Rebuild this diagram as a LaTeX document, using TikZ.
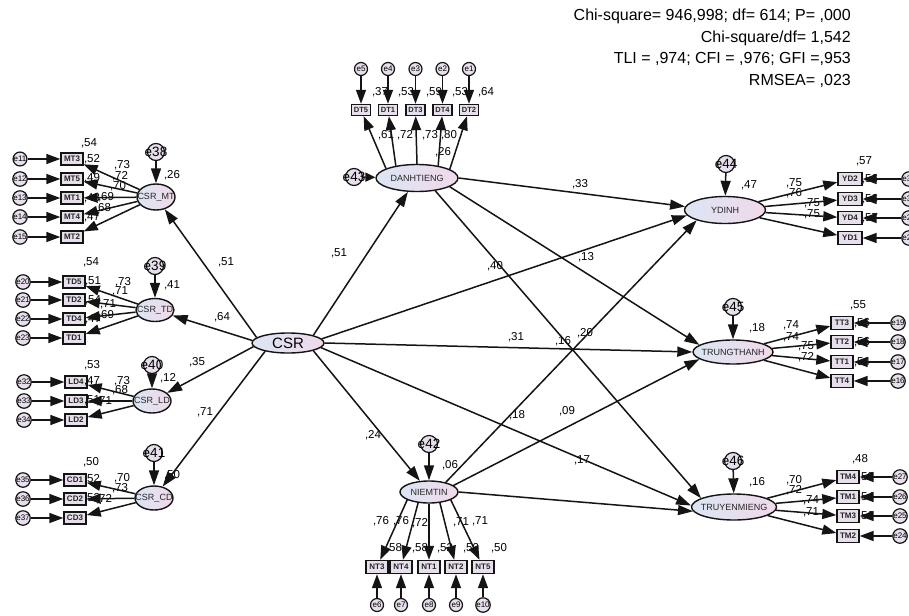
\documentclass[tikz,border=0pt]{standalone}
\usepackage{fontspec}
\setmainfont{Liberation Sans}
\usetikzlibrary{shapes.geometric,arrows.meta}
\definecolor{boxfill}{HTML}{E8DFEC}
\definecolor{latL}{HTML}{DCE5F3}
\definecolor{latR}{HTML}{F0D9EA}
\definecolor{edgec}{HTML}{141414}
\tikzset{
 lat/.style={ellipse, draw=edgec, line width=1.4pt, left color=latL, right color=latR, inner sep=0pt},
 latname/.style={font=\fontsize{9}{9}\selectfont, text=black!85},
 obs/.style={rectangle, draw=edgec, line width=1.4pt, fill=boxfill, inner sep=0pt, minimum width=22pt, minimum height=12pt, font=\bfseries\fontsize{8}{8}\selectfont, text=black!85},
 obsdt/.style={obs, minimum width=19pt, minimum height=11pt, font=\bfseries\fontsize{7.5}{7.5}\selectfont},
 err/.style={circle, draw=edgec, line width=1.2pt, fill=boxfill, inner sep=0pt, minimum size=13pt, font=\fontsize{8}{8}\selectfont},
 dist/.style={circle, draw=edgec, line width=1.2pt, fill=boxfill, inner sep=0pt, minimum size=17pt},
 distname/.style={font=\fontsize{13.5}{13.5}\selectfont},
 num/.style={inner sep=0pt, font=\fontsize{11.5}{11.5}\selectfont},
 fitstat/.style={inner sep=0pt, anchor=base east, font=\fontsize{16}{16}\selectfont},
 arr/.style={draw=edgec, line width=1.5pt, -{Triangle[length=14pt,width=10pt]}},
 sarr/.style={draw=edgec, line width=1.5pt, -{Triangle[length=15pt,width=10pt]}},
 shortarr/.style={draw=edgec, line width=1.5pt, -{Triangle[length=10pt,width=9pt]}},
}
\begin{document}
\begin{tikzpicture}[x=1pt,y=-1pt]
\useasboundingbox (0,0) rectangle (909,615);
\clip (0,0) rectangle (909,615);
\fill[white] (0,0) rectangle (909,615);

% fit statistics
\node[fitstat] (fs1) at (851,21) {Chi-square= 946,998; df= 614; P= ,000};
\node[fitstat] (fs2) at (851,42.5) {Chi-square/df= 1,542};
\node[fitstat] (fs3) at (851,64) {TLI = ,974; CFI = ,976; GFI =,953};
\node[fitstat] (fs4) at (851,85.5) {RMSEA= ,023};

% latent variables
\node[lat, minimum width=72pt, minimum height=20pt, label={[font=\fontsize{15}{15}\selectfont]center:CSR}] (csr) at (288,343) {};
\node[lat, minimum width=38pt, minimum height=26pt, label={[latname]center:CSR\_MT}] (csrmt) at (156,197) {};
\node[lat, minimum width=38pt, minimum height=23pt, label={[latname]center:CSR\_TD}] (csrtd) at (155,310) {};
\node[lat, minimum width=38pt, minimum height=24pt, label={[latname]center:CSR\_LD}] (csrld) at (152,401) {};
\node[lat, minimum width=38pt, minimum height=24pt, label={[latname]center:CSR\_CD}] (csrcd) at (154,498) {};
\node[lat, minimum width=82pt, minimum height=27pt, label={[latname]center:DANHTIENG}] (dan) at (417,178) {};
\node[lat, minimum width=58pt, minimum height=22pt, label={[latname]center:NIEMTIN}] (niem) at (429,492) {};
\node[lat, minimum width=81pt, minimum height=27pt, label={[latname]center:YDINH}] (ydinh) at (725,210) {};
\node[lat, minimum width=80pt, minimum height=24pt, label={[latname]center:TRUNGTHANH}] (ttn) at (733,352) {};
\node[lat, minimum width=85pt, minimum height=26pt, label={[latname]center:TRUYENMIENG}] (tmg) at (734,507) {};

% disturbances
\node[dist, label={[distname]center:e38}] (e38) at (156,152) {};
\node[dist, label={[distname]center:e39}] (e39) at (155,266) {};
\node[dist, label={[distname]center:e40}] (e40) at (152,365) {};
\node[dist, label={[distname]center:e41}] (e41) at (154,453) {};
\node[dist, label={[distname]center:e43}] (e43) at (354,177) {};
\node[dist, label={[distname]center:e42}] (e42) at (429,444) {};
\node[dist, label={[distname]center:e44}] (e44) at (726,164) {};
\node[dist, label={[distname]center:e45}] (e45) at (733,307) {};
\node[dist, label={[distname]center:e46}] (e46) at (733,461) {};

% indicators and their errors
\foreach \n/\y/\e in {MT3/159/e11, MT5/179/e12, MT1/198/e13, MT4/217/e14, MT2/237/e15}{
  \node[obs] (\n) at (72,\y) {\n};
  \node[err] (\e) at (20,\y) {\e};
}
\foreach \n/\y/\e in {TD5/282/e20, TD2/300/e21, TD4/319/e22, TD1/338/e23}{
  \node[obs] (\n) at (74,\y) {\n};
  \node[err] (\e) at (23,\y) {\e};
}
\foreach \n/\y/\e in {LD4/382/e32, LD3/401/e33, LD2/420/e34}{
  \node[obs] (\n) at (76,\y) {\n};
  \node[err] (\e) at (24,\y) {\e};
}
\foreach \n/\y/\e in {CD1/480/e35, CD2/499/e36, CD3/518/e37}{
  \node[obs] (\n) at (75,\y) {\n};
  \node[err] (\e) at (23,\y) {\e};
}
\foreach \n/\x/\e in {DT5/361/e5, DT1/388/e4, DT3/415.5/e3, DT4/442.5/e2, DT2/469/e1}{
  \node[obsdt] (\n) at (\x,110) {\n};
  \node[err] (\e) at (\x,69) {\e};
}
\foreach \n/\x/\e in {NT3/377/e6, NT4/401/e7, NT1/429/e8, NT2/456/e9, NT5/483/e10}{
  \node[obs, minimum height=13pt] (\n) at (\x,567) {\n};
  \node[err] (\e) at (\x,605) {\e};
}
\foreach \n/\y/\e in {YD2/179/e31, YD3/199/e30, YD4/218/e29, YD1/238/e28}{
  \node[obs, minimum width=24pt, minimum height=13pt] (\n) at (850,\y) {\n};
  \node[err, minimum size=14pt] (\e) at (909,\y) {\e};
}
\foreach \n/\y/\e in {TT3/323/e19, TT2/342/e18, TT1/362/e17, TT4/381/e16}{
  \node[obs, minimum height=13pt] (\n) at (842,\y) {\n};
  \node[err, minimum size=14pt] (\e) at (898,\y) {\e};
}
\foreach \n/\y/\e in {TM4/477/e27, TM1/497/e26, TM3/516/e25, TM2/536/e24}{
  \node[obs, minimum height=13pt] (\n) at (848,\y) {\n};
  \node[err, minimum size=14pt] (\e) at (900,\y) {\e};
}

% estimates
\foreach \x/\y/\t [count=\i] in {
 89/143/{,54}, 92/159/{,52}, 92/178/{,49}, 92/198/{,48}, 92/217/{,47},
 122/165/{,73}, 120/176/{,72}, 118/186/{,70}, 106/197/{,69}, 103/208/{,68}, 172/175/{,26},
 91/262/{,54}, 93/281/{,51}, 93/300/{,54}, 93/319/{,47},
 123/282/{,73}, 120/291/{,71}, 108/304/{,71}, 106/315/{,69}, 172/285/{,41},
 92/365/{,53}, 92/381/{,47}, 92/400/{,51},
 122/381/{,73}, 120/390/{,68}, 104/401/{,71}, 168/378/{,12},
 91/462/{,50}, 92/479/{,52}, 92/498/{,52},
 122/478/{,70}, 120/488/{,73}, 104/499/{,72}, 172/475/{,50},
 380/92/{,37}, 406/92/{,53}, 434/92/{,59}, 460/92/{,53}, 486/92/{,64},
 386/135/{,61}, 405/135/{,72}, 430/135/{,73}, 449/135/{,80}, 443/152/{,26},
 394/548/{,58}, 420/548/{,58}, 445/548/{,52}, 471/548/{,50}, 499/548/{,50},
 381/521/{,76}, 401/521/{,76}, 420/523/{,72}, 461/522/{,71}, 480/521/{,71}, 450/465/{,06},
 864/161/{,57}, 870/179/{,56}, 870/199/{,56}, 870/218/{,57},
 794/183/{,75}, 794/193/{,76}, 812/203/{,75}, 812/214/{,75}, 749/185/{,47},
 858/305/{,55}, 862/323/{,56}, 862/342/{,56}, 862/362/{,54},
 791/325/{,74}, 791/337/{,74}, 806/346/{,75}, 806/357/{,72}, 757/328/{,18},
 860/459/{,48}, 866/477/{,52}, 866/497/{,54}, 866/516/{,56},
 794/480/{,70}, 794/490/{,72}, 811/500/{,74}, 811/512/{,71}, 757/482/{,16},
 226/262/{,51}, 222/317/{,64}, 197/362/{,35}, 205/412/{,71},
 339/253/{,51}, 373/435/{,24}, 580/184/{,33}, 495/266/{,40},
 586/257/{,13}, 516/337/{,31}, 563/341/{,16}, 585/333/{,20},
 567/411/{,09}, 517/415/{,18}, 582/460/{,17}}
 \node[num] (v\i) at (\x,\y) {\t};

% measurement arrows
\foreach \n/\e in {MT3/e11, MT5/e12, MT1/e13, MT4/e14, MT2/e15}{
  \draw[arr] (\e) -- (\n); \draw[arr] (csrmt) -- (\n);
}
\foreach \n/\e in {TD5/e20, TD2/e21, TD4/e22, TD1/e23}{
  \draw[arr] (\e) -- (\n); \draw[arr] (csrtd) -- (\n);
}
\foreach \n/\e in {LD4/e32, LD3/e33, LD2/e34}{
  \draw[arr] (\e) -- (\n); \draw[arr] (csrld) -- (\n);
}
\foreach \n/\e in {CD1/e35, CD2/e36, CD3/e37}{
  \draw[arr] (\e) -- (\n); \draw[arr] (csrcd) -- (\n);
}
\foreach \n/\e/\a in {DT5/e5/163, DT1/e4/150, DT3/e3/90, DT4/e2/30, DT2/e1/15}{
  \draw[arr] (\e) -- (\n); \draw[arr] (dan.\a) -- (\n);
}
\foreach \n/\e/\a in {NT3/e6/200, NT4/e7/225, NT1/e8/270, NT2/e9/315, NT5/e10/340}{
  \draw[arr] (\e) -- (\n); \draw[arr] (niem.\a) -- (\n);
}
\foreach \n/\e in {YD2/e31, YD3/e30, YD4/e29, YD1/e28}{
  \draw[arr] (\e) -- (\n); \draw[arr] (ydinh) -- (\n);
}
\foreach \n/\e in {TT3/e19, TT2/e18, TT1/e17, TT4/e16}{
  \draw[arr] (\e) -- (\n); \draw[arr] (ttn) -- (\n);
}
\foreach \n/\e in {TM4/e27, TM1/e26, TM3/e25, TM2/e24}{
  \draw[arr] (\e) -- (\n); \draw[arr] (tmg) -- (\n);
}

% disturbance arrows
\draw[sarr] (e38) -- (csrmt);
\draw[sarr] (e39) -- (csrtd);
\draw[sarr] (e40) -- (csrld);
\draw[sarr] (e41) -- (csrcd);
\draw[shortarr] (e43) -- (dan);
\draw[sarr] (e42) -- (niem);
\draw[sarr] (e44) -- (ydinh);
\draw[sarr] (e45) -- (ttn);
\draw[sarr] (e46) -- (tmg);

% structural arrows
\draw[sarr] (csr.170) -- (csrmt);
\draw[sarr] (csr.176) -- (csrtd);
\draw[sarr] (csr.186) -- (csrld);
\draw[sarr] (csr.200) -- (csrcd);
\draw[sarr] (csr.17) -- (dan);
\draw[sarr] (csr.343) -- (niem);
\draw[sarr] (csr.7) -- (ydinh.188);
\draw[sarr] (csr.0) -- (ttn.west);
\draw[sarr] (csr.352) -- (tmg.178);
\draw[sarr] (dan.east) -- (ydinh.175);
\draw[sarr] (dan.345) -- (ttn.168);
\draw[sarr] (dan.325) -- (tmg.165);
\draw[sarr] (niem.30) -- (ydinh.200);
\draw[sarr] (niem.15) -- (ttn.192);
\draw[sarr] (niem.0) -- (tmg.186);
\end{tikzpicture}
\end{document}
